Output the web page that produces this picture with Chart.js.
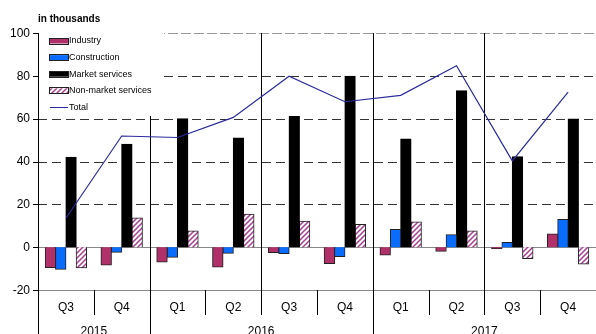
<!DOCTYPE html>
<html>
<head>
<meta charset="utf-8">
<script src="https://cdn.jsdelivr.net/npm/chart.js@4.4.0/dist/chart.umd.min.js"></script>
<style>
  html, body { margin: 0; padding: 0; background: #fff; }
  #wrap { width: 596px; height: 334px; }
</style>
</head>
<body>
<div id="wrap"><canvas id="myChart" width="596" height="334"></canvas></div>
<script>
// data
const quarters = ['Q3', 'Q4', 'Q1', 'Q2', 'Q3', 'Q4', 'Q1', 'Q2', 'Q3', 'Q4'];
const years = ['2015', '2016', '2017'];
const yearOfQuarter = [0, 0, 1, 1, 1, 1, 2, 2, 2, 2];
const yTicks = [100, 80, 60, 40, 20, 0, -20];

const industry = [-9.5, -8.3, -6.9, -9.3, -2.5, -7.6, -3.6, -1.9, -0.6, 6.1];
const construction = [-10.3, -2.4, -4.7, -2.8, -3.0, -4.4, 8.3, 5.8, 2.2, 12.9];
const marketServices = [42, 48, 60, 51, 61, 79.8, 50.5, 73, 42.2, 59.8];
const nonMarketServices = [-9.6, 13.6, 7.5, 15.4, 12.1, 10.6, 11.8, 7.5, -5.3, -7.9];
const total = [13.5, 51.9, 51.2, 60.6, 79.8, 67.9, 70.9, 84.7, 40.3, 72.4];

// hatch for non-market services
function makeHatch() {
    const c = document.createElement('canvas');
    c.width = 5; c.height = 5;
    const g = c.getContext('2d');
    g.fillStyle = '#fff';
    g.fillRect(0, 0, 5, 5);
    g.strokeStyle = '#a83a95';
    g.lineWidth = 1.5;
    g.beginPath();
    g.moveTo(-1, 6); g.lineTo(6, -1);
    g.moveTo(-1, 1); g.lineTo(1, -1);
    g.moveTo(4, 6); g.lineTo(6, 4);
    g.stroke();
    return g.createPattern(c, 'repeat');
}
const hatch = makeHatch();

const fontName = '"Liberation Sans", Arial, sans-serif';

const decor = {
    id: 'decor',
    beforeDatasetsDraw(chart) {
        const ctx = chart.ctx;
        const x = chart.scales.x, y = chart.scales.y;
        const area = chart.chartArea;
        const step = x.getPixelForValue(1) - x.getPixelForValue(0);
        ctx.save();

        // horizontal lines
        yTicks.forEach(v => {
            const py = Math.round(y.getPixelForValue(v)) + 0.5;
            ctx.beginPath();
            if (v === 100) { ctx.strokeStyle = '#999'; ctx.setLineDash([10, 3]); }
            else if (v <= 0) { ctx.strokeStyle = '#888'; ctx.setLineDash([]); }
            else { ctx.strokeStyle = '#333'; ctx.setLineDash([9, 5]); }
            ctx.lineWidth = 1;
            ctx.moveTo(area.left, py);
            ctx.lineTo(area.right, py);
            ctx.stroke();
            // tick mark
            ctx.setLineDash([]);
            ctx.strokeStyle = '#000';
            ctx.beginPath();
            ctx.moveTo(area.left - 5, py);
            ctx.lineTo(area.left, py);
            ctx.stroke();
        });
        ctx.setLineDash([]);

        // vertical lines
        ctx.strokeStyle = '#000';
        ctx.lineWidth = 1;
        const lx = Math.round(area.left) + 0.5;
        ctx.beginPath();
        ctx.moveTo(lx, area.top);
        ctx.lineTo(lx, 334);
        ctx.stroke();
        for (let i = 1; i < quarters.length; i++) {
            const px = Math.round(x.getPixelForValue(i) - step / 2) + 0.5;
            const newYear = yearOfQuarter[i] !== yearOfQuarter[i - 1];
            ctx.beginPath();
            if (i % 2 === 0) {
                ctx.moveTo(px, area.top);
            } else {
                ctx.moveTo(px, area.bottom);
            }
            ctx.lineTo(px, newYear ? 334 : area.bottom + 25);
            ctx.stroke();
        }

        // legend box
        ctx.fillStyle = '#fff';
        ctx.fillRect(area.left + 1, area.top - 1, 125, 84);

        const items = chart.data.datasets;
        ctx.font = '9px ' + fontName;
        ctx.textBaseline = 'middle';
        ctx.textAlign = 'left';
        items.forEach((ds, i) => {
            const cy = 41 + i * 16.6;
            if (ds.type === 'line') {
                ctx.strokeStyle = ds.borderColor;
                ctx.lineWidth = 1;
                ctx.beginPath();
                ctx.moveTo(50, Math.round(cy) + 0.5);
                ctx.lineTo(68, Math.round(cy) + 0.5);
                ctx.stroke();
            } else {
                ctx.fillStyle = ds.backgroundColor;
                ctx.fillRect(50, cy - 2.5, 18, 5);
                ctx.strokeStyle = '#222';
                ctx.lineWidth = 1;
                ctx.strokeRect(49.5, Math.round(cy - 2.5) - 0.5, 19, 6);
            }
            ctx.fillStyle = '#000';
            ctx.fillText(ds.label, 69, cy);
        });

        // y labels
        ctx.font = '12px ' + fontName;
        ctx.textAlign = 'right';
        yTicks.forEach(v => {
            ctx.fillText(String(v), area.left - 8, y.getPixelForValue(v) + 0.5);
        });

        // x labels
        ctx.textAlign = 'center';
        quarters.forEach((q, i) => {
            ctx.fillText(q, x.getPixelForValue(i), area.bottom + 18);
        });
        years.forEach((yr, k) => {
            const idx = yearOfQuarter.map((v, i) => v === k ? i : -1).filter(i => i >= 0);
            const x0 = x.getPixelForValue(idx[0]) - step / 2;
            const x1 = x.getPixelForValue(idx[idx.length - 1]) + step / 2;
            ctx.fillText(yr, (x0 + x1) / 2, area.bottom + 42);
        });

        // heading
        ctx.font = 'bold 10px ' + fontName;
        ctx.textAlign = 'left';
        ctx.fillText('in thousands', area.left, 19);
        ctx.restore();
    }
};

const ctx = document.getElementById('myChart').getContext('2d');
const myChart = new Chart(ctx, {
    type: 'bar',
    data: {
        labels: quarters,
        datasets: [
            { label: 'Industry', data: industry, backgroundColor: '#b0306a', borderColor: '#222', borderWidth: 1, inflateAmount: 0.5, order: 1 },
            { label: 'Construction', data: construction, backgroundColor: '#0a6cff', borderColor: '#222', borderWidth: 1, inflateAmount: 0.5, order: 1 },
            { label: 'Market services', data: marketServices, backgroundColor: '#000', borderColor: '#000', borderWidth: 1, inflateAmount: 0.5, order: 1 },
            { label: 'Non-market services', data: nonMarketServices, backgroundColor: hatch, borderColor: '#222', borderWidth: 1, inflateAmount: 0.5, order: 1 },
            { label: 'Total', type: 'line', data: total, borderColor: '#2a2a9c', borderWidth: 1.2, pointRadius: 0, tension: 0, fill: false, order: 0 }
        ]
    },
    options: {
        responsive: false,
        animation: false,
        devicePixelRatio: 1,
        categoryPercentage: 0.74,
        barPercentage: 1.0,
        layout: { padding: { top: 33, left: 0, right: 0, bottom: 0 } },
        plugins: { legend: { display: false }, tooltip: { enabled: false } },
        scales: {
            x: {
                grid: { display: false },
                border: { display: false },
                ticks: { display: false },
                afterFit: s => { s.height = 44; }
            },
            y: {
                min: -20,
                max: 100,
                grid: { display: false },
                border: { display: false },
                ticks: { display: false, stepSize: 20 },
                afterFit: s => { s.width = 38; }
            }
        }
    },
    plugins: [decor]
});
</script>
</body>
</html>
